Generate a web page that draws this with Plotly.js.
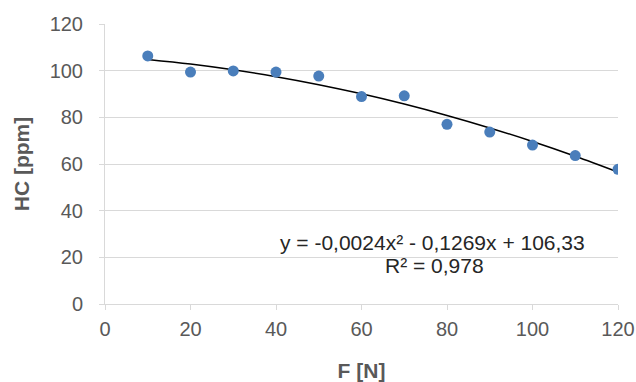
<!DOCTYPE html>
<html>
<head>
<meta charset="utf-8">
<script src="https://cdn.plot.ly/plotly-3.0.1.min.js"></script>
<style>html,body{margin:0;padding:0;background:#fff;}#chart{width:636px;height:382px;}</style>
</head>
<body>
<div id="chart"></div>
<script>
// Data
const forceN = [10, 20, 30, 40, 50, 60, 70, 80, 90, 100, 110, 120];
const hcPpm = [106.3, 99.4, 99.9, 99.4, 97.7, 88.9, 89.2, 77.0, 73.7, 68.1, 63.6, 57.7];
// Trendline coefficients as printed on the chart (a*x^2 + b*x + c)
const trendCoef = [-0.0024, -0.1269, 106.33];
const equationText = 'y = -0,0024x² - 0,1269x + 106,33';
const r2Text = 'R² = 0,978';
const xTicks = [0, 20, 40, 60, 80, 100, 120];
const yTicks = [0, 20, 40, 60, 80, 100, 120];

const trendY = forceN.map(x => trendCoef[0] * x * x + trendCoef[1] * x + trendCoef[2]);

const font = 'Liberation Sans, Arial, sans-serif';
const gray = '#595959';
const grid = '#d9d9d9';

const traces = [
  {
    x: forceN, y: trendY, type: 'scatter', mode: 'lines',
    line: {color: '#000000', width: 1.5, shape: 'spline'},
    hoverinfo: 'skip', showlegend: false
  },
  {
    x: forceN, y: hcPpm, type: 'scatter', mode: 'markers',
    marker: {color: '#4a7ebb', size: 11},
    showlegend: false
  }
];

const layout = {
  width: 636, height: 382,
  margin: {l: 105, r: 18, t: 24, b: 78},
  paper_bgcolor: '#ffffff', plot_bgcolor: '#ffffff',
  font: {family: font, color: gray, size: 20},
  showlegend: false,
  xaxis: {
    range: [0, 120], tickvals: xTicks, ticktext: xTicks.map(String),
    showgrid: false, zeroline: false,
    showline: true, linecolor: grid, linewidth: 1,
    ticks: 'outside', ticklen: 5, tickcolor: grid, tickwidth: 1,
    ticklabelstandoff: 2,
    tickfont: {family: font, size: 20, color: gray},
    title: {text: '<b>F [N]</b>', font: {family: font, size: 21, color: gray}, standoff: 24}
  },
  yaxis: {
    range: [0, 120], tickvals: yTicks, ticktext: yTicks.map(String),
    showgrid: true, gridcolor: grid, gridwidth: 1, zeroline: false,
    showline: true, linecolor: grid, linewidth: 1,
    ticks: 'outside', ticklen: 5, tickcolor: grid, tickwidth: 1,
    ticklabelstandoff: 12,
    tickfont: {family: font, size: 20, color: gray},
    title: {text: '<b>HC [ppm]</b>', font: {family: font, size: 21, color: gray}, standoff: 14}
  },
  annotations: [
    {xref: 'paper', yref: 'paper', x: 0.639, y: 0.218, xanchor: 'center', yanchor: 'middle',
     text: equationText, showarrow: false, font: {family: font, size: 21, color: '#262626'}},
    {xref: 'paper', yref: 'paper', x: 0.643, y: 0.139, xanchor: 'center', yanchor: 'middle',
     text: r2Text, showarrow: false, font: {family: font, size: 21, color: '#262626'}}
  ]
};

Plotly.newPlot('chart', traces, layout, {displayModeBar: false, staticPlot: true});
</script>
</body>
</html>
